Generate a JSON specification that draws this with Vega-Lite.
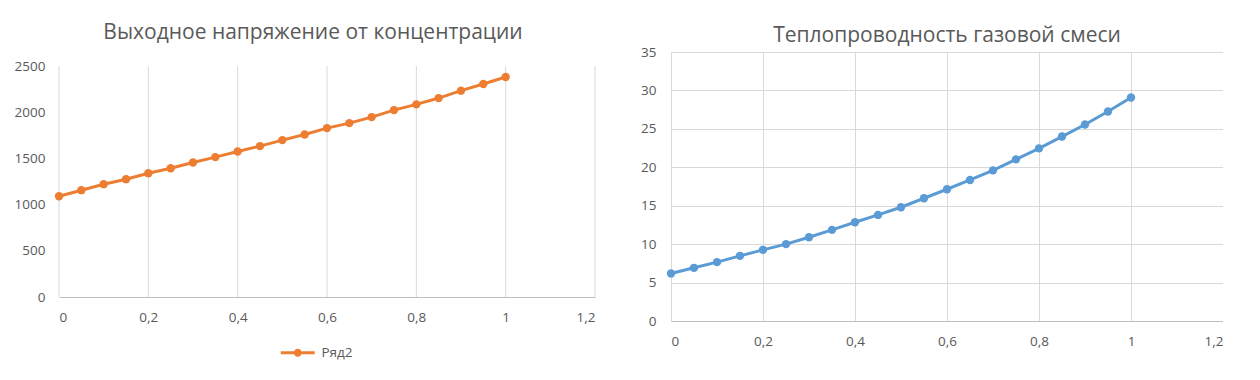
{
  "$schema": "https://vega.github.io/schema/vega-lite/v6.json",
  "padding": {"left": 14, "top": 22, "right": 0, "bottom": 0},
  "background": "white",
  "spacing": 44,
  "columns": 2,
  "align": "none",
  "resolve": {"legend": {"color": "independent"}, "scale": {"color": "independent"}},
  "datasets": {
    "left": [
      {"c": 0, "u": 1090}, {"c": 0.05, "u": 1156}, {"c": 0.1, "u": 1221}, {"c": 0.15, "u": 1275},
      {"c": 0.2, "u": 1340}, {"c": 0.25, "u": 1394}, {"c": 0.3, "u": 1456}, {"c": 0.35, "u": 1514},
      {"c": 0.4, "u": 1575}, {"c": 0.45, "u": 1633}, {"c": 0.5, "u": 1698}, {"c": 0.55, "u": 1759},
      {"c": 0.6, "u": 1828}, {"c": 0.65, "u": 1882}, {"c": 0.7, "u": 1947}, {"c": 0.75, "u": 2023},
      {"c": 0.8, "u": 2085}, {"c": 0.85, "u": 2153}, {"c": 0.9, "u": 2233}, {"c": 0.95, "u": 2305},
      {"c": 1, "u": 2381}
    ],
    "right": [
      {"c": 0, "k": 6.19}, {"c": 0.05, "k": 6.92}, {"c": 0.1, "k": 7.66}, {"c": 0.15, "k": 8.48},
      {"c": 0.2, "k": 9.26}, {"c": 0.25, "k": 10.0}, {"c": 0.3, "k": 10.9}, {"c": 0.35, "k": 11.86},
      {"c": 0.4, "k": 12.85}, {"c": 0.45, "k": 13.8}, {"c": 0.5, "k": 14.8}, {"c": 0.55, "k": 15.97},
      {"c": 0.6, "k": 17.14}, {"c": 0.65, "k": 18.35}, {"c": 0.7, "k": 19.6}, {"c": 0.75, "k": 21.03},
      {"c": 0.8, "k": 22.46}, {"c": 0.85, "k": 24.0}, {"c": 0.9, "k": 25.57}, {"c": 0.95, "k": 27.26},
      {"c": 1, "k": 29.08}
    ],
    "xticks": [{"t": 0}, {"t": 0.2}, {"t": 0.4}, {"t": 0.6}, {"t": 0.8}, {"t": 1}, {"t": 1.2}]
  },
  "config": {
    "font": "Open Sans",
    "view": {"stroke": null},
    "axis": {
      "labelColor": "#595959", "labelFontSize": 13.5, "labelFont": "Open Sans",
      "gridColor": "#d9d9d9", "domainColor": "#bfbfbf", "ticks": false, "title": null
    },
    "title": {"fontSize": 21, "fontWeight": "normal", "color": "#595959", "anchor": "middle", "font": "Open Sans"},
    "legend": {"labelColor": "#595959", "labelFontSize": 13.5, "labelFont": "Open Sans"}
  },
  "concat": [
    {
      "width": 536, "height": 245,
      "title": {"text": "Выходное напряжение от концентрации", "offset": 9, "dx": -14},
      "layer": [
        {
          "data": {"name": "xticks"},
          "mark": {"type": "rule", "color": "#d9d9d9", "strokeWidth": 1},
          "encoding": {
            "x": {"field": "t", "type": "quantitative", "scale": {"domain": [0, 1.2], "nice": false},
              "axis": {"values": [0, 0.2, 0.4, 0.6, 0.8, 1, 1.2], "format": "~g", "labelExpr": "replace(datum.label, '.', ',')", "labelPadding": 13, "grid": false}},
            "y": {"datum": 0, "type": "quantitative", "scale": {"domain": [0, 2500], "nice": false, "range": [245, 14]},
              "axis": {"values": [0, 500, 1000, 1500, 2000, 2500], "format": "d", "labelPadding": 14, "domain": false}},
            "y2": {"datum": 2500}
          }
        },
        {
          "data": {"name": "left"},
          "mark": {"type": "line", "strokeWidth": 3, "point": {"size": 70, "filled": true, "opacity": 1}},
          "encoding": {
            "x": {"field": "c", "type": "quantitative"},
            "y": {"field": "u", "type": "quantitative"},
            "color": {"datum": "Ряд2", "scale": {"range": ["#ED7D31"]},
              "legend": {"orient": "none", "legendX": 232, "legendY": 294, "title": null,
                "symbolType": "M-4.25,-0.375L4.25,-0.375L4.25,0.375L-4.25,0.375Z M1,0A1,1,0,1,1,-1,0A1,1,0,1,1,1,0Z",
                "symbolSize": 64, "labelOffset": 17,
                "encode": {"symbols": {"update": {"fill": {"value": "#ED7D31"}, "stroke": {"value": "#ED7D31"}, "strokeWidth": {"value": 0}, "opacity": {"value": 1}}}}}}
          }
        }
      ]
    },
    {
      "width": 552, "height": 269,
      "title": {"text": "Теплопроводность газовой смеси", "offset": -1},
      "data": {"name": "right"},
      "mark": {"type": "line", "strokeWidth": 3, "color": "#5B9BD5", "point": {"size": 70, "filled": true, "opacity": 1, "color": "#5B9BD5"}},
      "encoding": {
        "x": {"field": "c", "type": "quantitative", "scale": {"domain": [0, 1.2], "nice": false},
          "axis": {"values": [0, 0.2, 0.4, 0.6, 0.8, 1, 1.2], "format": "~g", "labelExpr": "replace(datum.label, '.', ',')", "labelPadding": 13}},
        "y": {"field": "k", "type": "quantitative", "scale": {"domain": [0, 35], "nice": false},
          "axis": {"values": [0, 5, 10, 15, 20, 25, 30, 35], "format": "d", "labelPadding": 15, "domain": false}}
      }
    }
  ]
}
